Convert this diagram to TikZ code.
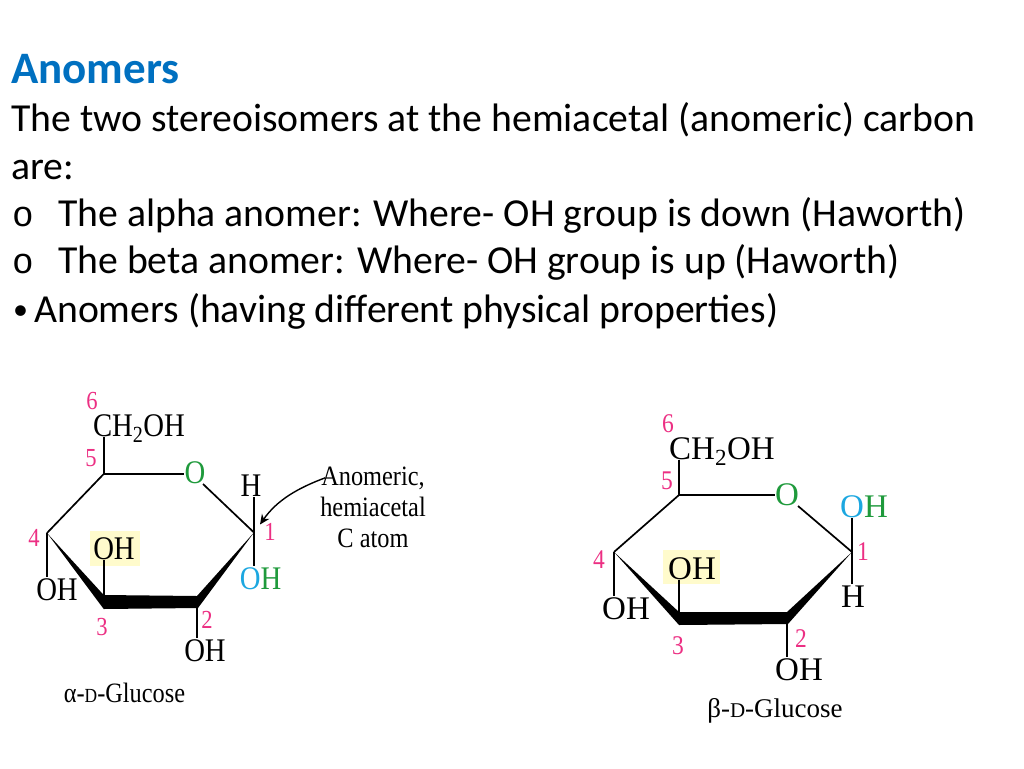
\documentclass[tikz,border=0pt]{standalone}
\usepackage{fontspec}
\setmainfont{Carlito}
\newfontfamily\chemfont{Liberation Serif}
\newfontfamily\chemnarrow[FakeStretch=0.87]{Liberation Serif}
\newfontfamily\monofont{Liberation Mono}
\usetikzlibrary{arrows.meta,calc}
\definecolor{headblue}{HTML}{0070C0}
\definecolor{numpink}{HTML}{EC2F83}
\definecolor{ogreen}{HTML}{1F9A3C}
\definecolor{oblue}{HTML}{1CA7E0}
\definecolor{hilite}{HTML}{FFFBCC}
\newcommand{\fs}[1]{\fontsize{#1}{#1}\selectfont}
\tikzset{
  body/.style={anchor=base west,inner sep=0pt,font=\fs{39.7}},
  lefta/.style={inner sep=1pt,text height=22pt,text depth=0pt,font=\chemnarrow\fs{33}},
  righta/.style={inner sep=1pt,text height=22pt,text depth=0pt,font=\chemfont\fs{33}},
  numl/.style={inner sep=0pt,text=numpink,font=\chemnarrow\fs{26}},
  numr/.style={inner sep=0pt,text=numpink,font=\chemnarrow\fs{27}},
  capl/.style={inner sep=0pt,font=\chemnarrow\fs{28}},
  capr/.style={inner sep=0pt,font=\chemfont\fs{27}},
  bondl/.style={line width=1.7pt,black},
  wedge/.style={fill=black,draw=none},
  hl/.style={fill=hilite,draw=none}
}
\begin{document}
\begin{tikzpicture}[x=1pt,y=-1pt]
\useasboundingbox (0,0) rectangle (1024,768);
% Text
\node[body,font=\fs{45}\bfseries,text=headblue] (title) at (11,83) {Anomers};
\node[body] (l1) at (11,131) {The two stereoisomers at the hemiacetal (anomeric) carbon};
\node[body] (l2) at (11,179) {are:};
\node[body,font=\monofont\fs{36}] (b1) at (12,226) {o};
\node[body] (l3) at (58,226) {The alpha anomer: Where- OH group is down (Haworth)};
\node[body,font=\monofont\fs{36}] (b2) at (12,273) {o};
\node[body] (l4) at (58,273) {The beta anomer: Where- OH group is up (Haworth)};
\node[body,font=\fs{30}] (b3) at (13,319) {•};
\node[body] (l5) at (34,322) {Anomers (having different physical properties)};

% ---------- alpha
\fill[hl] (90,531) rectangle (140,566);
\coordinate (a1) at (254,532.5);
\coordinate (a2) at (197,602);
\coordinate (a3) at (103.7,602);
\coordinate (a4) at (47,533);
\coordinate (a5) at (103.7,474);
\node[lefta] (aCH) at (139,425) {CH\textsubscript{2}OH};
\node[inner sep=0pt,text=ogreen,font=\chemnarrow\fs{33}] (aO) at (195,473) {O};
\node[lefta] (aH) at (251,485) {H};
\node[lefta] (aOH1) at (260.5,578) {\textcolor{oblue}{O}\textcolor{ogreen}{H}};
\node[lefta] (aOH2) at (205,650.5) {OH};
\node[lefta] (aOH3) at (114,548) {OH};
\node[lefta] (aOH4) at (57,589) {OH};
\fill[wedge] (a4) -- (103.7,595) -- (197,596) -- (a1) -- (198,608) -- (103.7,609) -- cycle;
\draw[bondl] (a5) -- (aO.west |- a5);
\draw[bondl] (aO) ++(8,11) -- (a1);
\draw[bondl] (a4) -- (a5);
\draw[bondl] (a5) -- (a5 |- aCH.south);
\draw[bondl] (a1) -- (a1 |- aH.south);
\draw[bondl] (a1) -- (a1 |- aOH1.north);
\draw[bondl] (a2) -- (a2 |- aOH2.north);
\draw[bondl] (a3) -- (a3 |- aOH3.south);
\draw[bondl] (a4) -- (a4 |- aOH4.north);
\node[numl] (an1) at (270,532) {1};
\node[numl] (an2) at (207,620) {2};
\node[numl] (an3) at (102,627) {3};
\node[numl] (an4) at (34,538) {4};
\node[numl] (an5) at (91,458) {5};
\node[numl] (an6) at (92,401) {6};
\node[capl,align=center] (anom) at (373,507) {\strut Anomeric,\\[3pt]hemiacetal\\[3pt]C atom};
\node[capl] (acap) at (124.5,693) {α-{\fs{20}D}-Glucose};
\draw[line width=1.4pt,-{Stealth[length=10pt,width=9pt]}] (anom.north west) ++(5,12) .. controls (298,488) and (277,500) .. ($(a1)+(6,-8)$);

% ---------- beta
\fill[hl] (663,550) rectangle (720,584);
\coordinate (b1c) at (852,552);
\coordinate (b2c) at (787,618);
\coordinate (b3c) at (679,618);
\coordinate (b4c) at (614,552);
\coordinate (b5c) at (679,495);
\node[righta,text height=20pt] (bCH) at (722,449) {CH\textsubscript{2}OH};
\node[inner sep=0pt,text=ogreen,font=\chemfont\fs{33}] (bO) at (787,495) {O};
\node[righta] (bOH1) at (864,506) {\textcolor{oblue}{O}\textcolor{ogreen}{H}};
\node[righta] (bH) at (853,596) {H};
\node[righta] (bOH2) at (799,669) {OH};
\node[righta] (bOH3) at (692,568) {OH};
\node[righta] (bOH4) at (626,608) {OH};
\fill[wedge] (b4c) -- (679,612) -- (787,612) -- (b1c) -- (788,624) -- (679,625) -- cycle;
\draw[bondl] (b5c) -- (bO.west |- b5c);
\draw[bondl] (bO) ++(11,11) -- (b1c);
\draw[bondl] (b4c) -- (b5c);
\draw[bondl] (b5c) -- (b5c |- bCH.south);
\draw[bondl] (b1c) -- (b1c |- bOH1.south);
\draw[bondl] (b1c) -- (b1c |- bH.north);
\draw[bondl] (b2c) -- (b2c |- bOH2.north);
\draw[bondl] (b3c) -- (b3c |- bOH3.south);
\draw[bondl] (b4c) -- (b4c |- bOH4.north);
\node[numr] (bn1) at (863,552) {1};
\node[numr] (bn2) at (801,639) {2};
\node[numr] (bn3) at (678,646) {3};
\node[numr] (bn4) at (599,560) {4};
\node[numr] (bn5) at (667,481) {5};
\node[numr] (bn6) at (668,424) {6};
\node[capr] (bcap) at (775,711) {β-{\fs{21}D}-Glucose};
\end{tikzpicture}
\end{document}
